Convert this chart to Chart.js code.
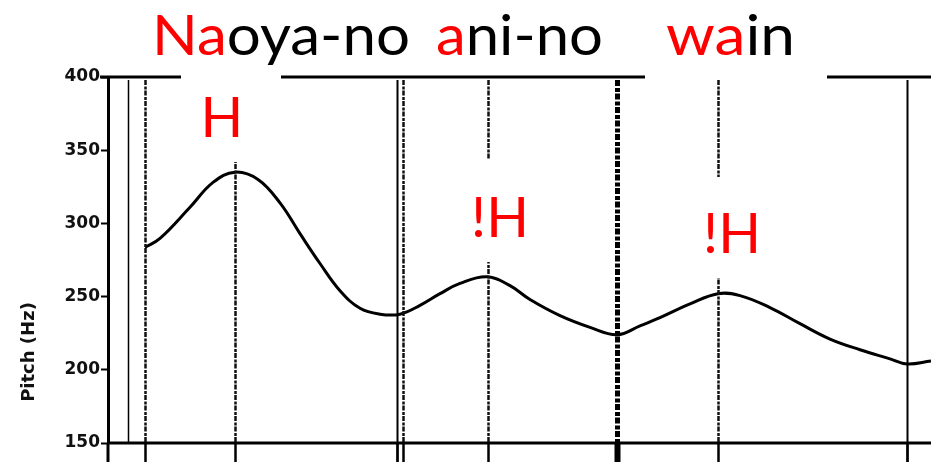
<!DOCTYPE html>
<html>
<head>
<meta charset="utf-8">
<script src="https://cdn.jsdelivr.net/npm/chart.js@4"></script>
<style>
  html, body { margin: 0; padding: 0; background: #fff; }
  canvas { display: block; }
</style>
</head>
<body>
<canvas id="c" width="931" height="462"></canvas>
<script>
// ---- data (time in ms, pitch in Hz) ----
const times = [74, 104, 164, 210, 254, 300, 344, 384, 424, 464, 504, 544, 584, 624, 664, 704, 758, 804, 844, 904, 964, 1018, 1064, 1104, 1164, 1220, 1264, 1324, 1384, 1444, 1504, 1564, 1598, 1646];
const pitch = [283.6, 289.7, 311, 328, 335, 330, 314, 293, 272.6, 254, 242, 238, 238, 244, 252, 259, 263.5, 257.5, 248, 237, 229, 224, 230, 235.6, 245, 252, 250.7, 242.5, 231.5, 221, 213.7, 207.5, 204, 206];
const boundaries = [40, 74, 254, 578, 590, 760, 1018, 1220, 1598];
const yTicks = [150, 200, 250, 300, 350, 400];
const toneLabels = ["H", "!H", "!H"];
const toneTimes = [254, 760, 1220];
const titleWords = ["Naoya-no", "ani-no", "wain"];
const accentCount = [2, 1, 2];
const yTitle = "Pitch (Hz)";

const points = times.map((t, i) => ({ x: t, y: pitch[i] }));

const overlay = {
  id: 'overlay',
  afterDraw(chart) {
    const ctx = chart.ctx;
    const xs = chart.scales.x, ys = chart.scales.y;
    const ca = chart.chartArea;
    const yBot = ys.getPixelForValue(150);
    const yTop = ys.getPixelForValue(400);
    const H = chart.height;
    ctx.save();
    // vertical boundary lines
    const kinds = ['thin', 'dash', 'dash', 'solid', 'dash', 'dash', 'heavy', 'dash', 'solid'];
    boundaries.forEach((t, i) => {
      const px = Math.round(xs.getPixelForValue(t)) + 0.5;
      const k = kinds[i];
      ctx.strokeStyle = '#000';
      ctx.beginPath();
      if (k === 'thin' || k === 'solid') {
        ctx.setLineDash([]);
        ctx.lineWidth = k === 'thin' ? 1.5 : 2;
        ctx.moveTo(px, yTop + 3);
        ctx.lineTo(px, k === 'thin' ? yBot : H);
      } else if (k === 'dash') {
        ctx.setLineDash([5, 1.5, 3, 1]);
        ctx.lineWidth = 2.5;
        ctx.strokeStyle = '#111';
        ctx.moveTo(px, yTop + 3);
        ctx.lineTo(px, yBot);
      } else {
        ctx.setLineDash([6, 2, 4, 1.5]);
        ctx.lineWidth = 5;
        ctx.moveTo(px, yTop + 3);
        ctx.lineTo(px, yBot);
      }
      ctx.stroke();
      ctx.setLineDash([]);
      ctx.strokeStyle = '#000';
      if (k !== 'thin') {
        ctx.beginPath();
        ctx.lineWidth = k === 'heavy' ? 6 : 2.5;
        ctx.moveTo(px, yBot);
        ctx.lineTo(px, H);
        ctx.stroke();
      }
    });
    // bottom & top frame lines
    ctx.lineWidth = 3;
    ctx.beginPath();
    ctx.moveTo(ca.left, yBot); ctx.lineTo(ca.right, yBot);
    ctx.moveTo(ca.left - 8, yTop); ctx.lineTo(ca.right, yTop);
    ctx.stroke();
    // y axis extension below
    ctx.beginPath();
    ctx.moveTo(ca.left, yBot); ctx.lineTo(ca.left, H);
    ctx.stroke();
    // white boxes behind labels
    ctx.fillStyle = '#fff';
    ctx.fillRect(181, 0, 100, 162);
    ctx.fillRect(645, 0, 182, 80);
    ctx.fillRect(468, 160, 64, 102);
    ctx.fillRect(698, 177, 66, 101);
    // tone labels
    ctx.fillStyle = '#ff0000';
    ctx.font = '56px Lato';
    ctx.textAlign = 'center';
    ctx.textBaseline = 'alphabetic';
    const dx = [-13, 12, 14];
    const base = [137, 237, 253];
    toneLabels.forEach((s, i) => {
      ctx.fillText(s, xs.getPixelForValue(toneTimes[i]) + dx[i], base[i]);
    });
    // title words
    ctx.textAlign = 'left';
    const starts = [152, 436, 666];
    const widths = [258, 167, 129];
    titleWords.forEach((w, i) => {
      const full = ctx.measureText(w).width;
      const sx = widths[i] / full;
      ctx.save();
      ctx.translate(starts[i], 55);
      ctx.scale(sx, 1);
      const a = w.slice(0, accentCount[i]);
      const b = w.slice(accentCount[i]);
      ctx.fillStyle = '#ff0000';
      ctx.fillText(a, 0, 0);
      ctx.fillStyle = '#000';
      ctx.fillText(b, ctx.measureText(a).width, 0);
      ctx.restore();
    });
    // y title
    ctx.save();
    ctx.translate(29, 352);
    ctx.rotate(-Math.PI / 2);
    ctx.font = 'bold 18px "DejaVu Sans"';
    ctx.fillStyle = '#111';
    ctx.textAlign = 'center';
    ctx.textBaseline = 'middle';
    ctx.fillText(yTitle, 0, 0);
    ctx.restore();
    ctx.restore();
  }
};

new Chart(document.getElementById('c'), {
  type: 'line',
  data: {
    datasets: [{
      data: points,
      borderColor: '#000',
      borderWidth: 3,
      pointRadius: 0,
      tension: 0.4,
      fill: false
    }]
  },
  options: {
    responsive: false,
    animation: false,
    events: [],
    layout: { padding: { top: 77, bottom: 19, left: 0, right: 0 } },
    plugins: { legend: { display: false }, tooltip: { enabled: false }, title: { display: false } },
    scales: {
      x: { type: 'linear', min: 0, max: 1646, display: false },
      y: {
        min: 150, max: 400,
        afterBuildTicks(scale) { scale.ticks = yTicks.map(v => ({ value: v })); },
        afterFit(scale) { scale.width = 108; },
        ticks: {
          padding: 1,
          color: '#111',
          font: { family: '"DejaVu Sans"', size: 17, weight: 'bold' }
        },
        grid: { drawOnChartArea: false, drawTicks: true, tickLength: 7, tickWidth: 2, color: '#000' },
        border: { display: true, width: 3, color: '#000' }
      }
    }
  },
  plugins: [overlay]
});
</script>
</body>
</html>
